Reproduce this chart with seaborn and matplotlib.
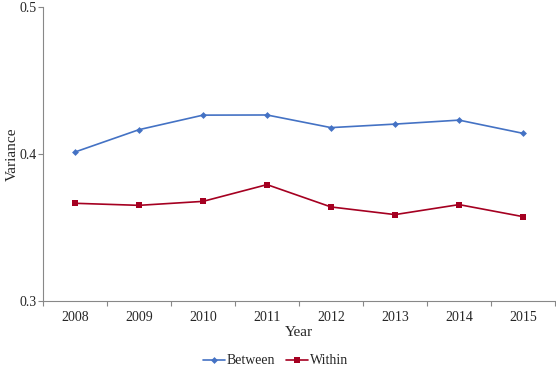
import pandas as pd
import seaborn as sns
import matplotlib.pyplot as plt
from matplotlib.ticker import FixedLocator

years = ["2008", "2009", "2010", "2011", "2012", "2013", "2014", "2015"]
between = [0.4014, 0.4166, 0.4265, 0.4266, 0.4180, 0.4204, 0.4231, 0.4141]
within = [0.3665, 0.3651, 0.3678, 0.3792, 0.3640, 0.3588, 0.3656, 0.3574]

df = pd.DataFrame({"Year": years * 2,
                   "Variance": between + within,
                   "Series": ["Between"] * 8 + ["Within"] * 8})

sns.set_style("white")
plt.rcParams["font.family"] = ["Liberation Serif", "DejaVu Serif"]

fig = plt.figure(figsize=(5.56, 3.76), dpi=100)
ax = fig.add_axes([0.0773, 0.1995, 0.921, 0.7815])

sns.lineplot(data=df, x="Year", y="Variance", hue="Series", style="Series",
             palette={"Between": "#4472C4", "Within": "#A50021"},
             markers={"Between": "D", "Within": "s"},
             dashes=False, linewidth=1.2, markeredgewidth=0, ax=ax)
for line, ms in zip(ax.lines[:2], [3.5, 4.8]):
    line.set_markersize(ms)

ax.set_xlim(-0.5, 7.5)
ax.set_ylim(0.3, 0.5)
ax.set_yticks([0.3, 0.4, 0.5])
ax.set_yticklabels(["0.3", "0.4", "0.5"])
ax.set_xticks(range(8))
ax.set_xticklabels(years)
ax.xaxis.set_minor_locator(FixedLocator([i - 0.5 for i in range(9)]))
ax.tick_params(axis="x", which="major", length=0, pad=7, labelsize=10)
ax.tick_params(axis="x", which="minor", length=3.6, color="#888888", width=0.8, direction="out")
ax.tick_params(axis="y", length=3.6, color="#888888", width=0.8, direction="out", labelsize=10, pad=1.2)
ax.xaxis.set_tick_params(which="both", bottom=True)
ax.yaxis.set_tick_params(left=True)

for side in ["top", "right"]:
    ax.spines[side].set_visible(False)
for side in ["left", "bottom"]:
    ax.spines[side].set_color("#888888")
    ax.spines[side].set_linewidth(0.8)

ax.set_xlabel("Year", fontsize=11, labelpad=2)
ax.set_ylabel("Variance", fontsize=11)
ax.yaxis.set_label_coords(-0.047, 0.5)

handles, labels = ax.get_legend_handles_labels()
for h, ms in zip(handles, [3.5, 4.8]):
    h.set_markersize(ms)
    h.set_markeredgewidth(0)
ax.legend().remove()
fig.legend(handles, labels, loc="center", bbox_to_anchor=(0.495, 0.04),
           ncol=2, frameon=False, fontsize=10, handlelength=1.6,
           handletextpad=0.1, columnspacing=0.8)

fig.savefig("out.png", dpi=100)
